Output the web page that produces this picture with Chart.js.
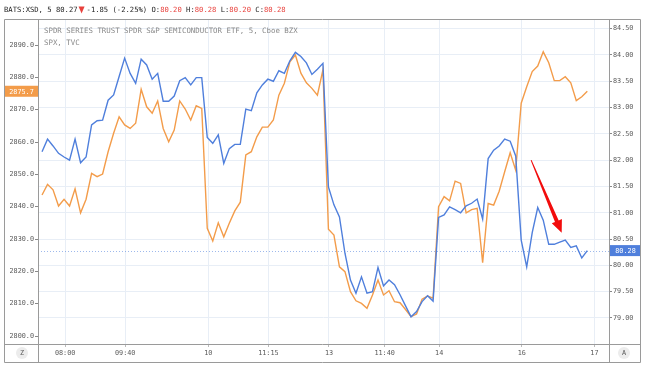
<!DOCTYPE html>
<html>
<head>
<meta charset="utf-8">
<script src="https://cdn.jsdelivr.net/npm/chart.js@4.4.0/dist/chart.umd.min.js"></script>
<style>
  html, body { margin: 0; padding: 0; background: #fff; }
</style>
</head>
<body>
<canvas id="chart" width="645" height="367"></canvas>
<script>
// SPX (left axis), 5-min closes
var spx = [
  2843.6, 2846.9, 2845.2, 2840.2, 2842.3, 2840.2, 2845.5, 2838.1, 2842.3, 2850.3,
  2849.3, 2850.1, 2857.0, 2862.7, 2867.8, 2865.3, 2864.2, 2865.8, 2876.3, 2870.9,
  2868.9, 2872.7, 2864.2, 2860.1, 2863.7, 2872.7, 2870.2, 2866.8, 2871.2, 2870.4,
  2833.3, 2829.4, 2835.0, 2830.7, 2834.9, 2838.7, 2841.4, 2856.0, 2857.0, 2861.6,
  2864.6, 2864.6, 2866.8, 2874.5, 2878.2, 2884.8, 2886.9, 2881.3, 2878.3, 2876.6,
  2874.5, 2882.3, 2833.0, 2831.2, 2821.4, 2819.9, 2813.7, 2810.9, 2810.1, 2808.6,
  2812.7, 2817.3, 2812.7, 2814.0, 2810.6, 2810.3, 2808.2, 2806.0, 2806.8, 2811.4,
  2812.4, 2811.7, 2840.0, 2843.1, 2841.8, 2847.9, 2847.2, 2838.1, 2839.1, 2839.5,
  2822.7, 2841.0, 2840.5, 2844.8, 2850.8, 2856.7, 2851.3, 2872.0, 2877.1, 2881.8,
  2883.5, 2887.9, 2884.5, 2879.0, 2879.0, 2880.2, 2878.3, 2872.8, 2874.0, 2875.7
];

// XSD (right axis), 5-min closes
var xsd = [
  82.16, 82.40, 82.27, 82.13, 82.06, 82.00, 82.40, 81.95, 82.06, 82.67,
  82.75, 82.76, 83.14, 83.24, 83.59, 83.94, 83.65, 83.46, 83.92, 83.81,
  83.54, 83.65, 83.12, 83.12, 83.22, 83.51, 83.57, 83.43, 83.57, 83.57,
  82.43, 82.32, 82.48, 81.94, 82.22, 82.30, 82.30, 82.97, 82.94, 83.28,
  83.43, 83.54, 83.50, 83.70, 83.65, 83.89, 84.05, 83.97, 83.85, 83.63,
  83.73, 83.84, 81.49, 81.15, 80.92, 80.23, 79.72, 79.47, 79.78, 79.47,
  79.50, 79.96, 79.61, 79.72, 79.63, 79.44, 79.23, 79.02, 79.12, 79.31,
  79.42, 79.32, 80.91, 80.96, 81.11, 81.06, 81.00, 81.13, 81.18, 81.26,
  80.88, 82.03, 82.19, 82.27, 82.40, 82.36, 82.08, 80.48, 79.97, 80.62,
  81.10, 80.86, 80.40, 80.40, 80.44, 80.48, 80.34, 80.37, 80.14, 80.28
];

var xTickPos = [4.2, 15.1, 30.2, 41.1, 52.1, 62.2, 72.1, 87.1, 100.3];
var xTickLabels = ['08:00', '09:40', '10', '11:15', '13', '11:40', '14', '16', '17'];
var leftTicks = [2800, 2810, 2820, 2830, 2840, 2850, 2860, 2870, 2880, 2890];
var rightTicks = [79, 79.5, 80, 80.5, 81, 81.5, 82, 82.5, 83, 83.5, 84, 84.5];

var lastSpx = 2875.7;
var lastXsd = 80.28;
// red arrow, in (bar index, XSD price)
var arrowFrom = [88.8, 82.0];
var arrowTo = [94.35, 80.62];

var colors = {
    blue: '#4f7fdc',
    orange: '#f39c4a',
    red: '#e8413c',
    grid: '#e8eef6',
    frame: '#9a9a9a',
    text: '#5a5a5a'
};
var mono = '"DejaVu Sans Mono", monospace';

var overlay = {
    id: 'overlay',
    beforeDatasetsDraw: function(chart) {
        var ctx = chart.ctx, a = chart.chartArea;
        var y = Math.round(chart.scales.yR.getPixelForValue(lastXsd)) + 0.5;
        ctx.save();
        ctx.strokeStyle = 'rgba(79,127,220,0.55)';
        ctx.lineWidth = 1;
        ctx.setLineDash([1, 2]);
        ctx.beginPath();
        ctx.moveTo(a.left, y);
        ctx.lineTo(a.right, y);
        ctx.stroke();
        ctx.restore();
    },
    afterDraw: function(chart) {
        var ctx = chart.ctx, a = chart.chartArea;
        var yL = chart.scales.yL, yR = chart.scales.yR, x = chart.scales.x;
        ctx.save();

        // frame
        ctx.strokeStyle = colors.frame;
        ctx.lineWidth = 1;
        ctx.beginPath();
        ctx.rect(4.5, 19.5, 636, 343);
        ctx.moveTo(a.left + 0.5, 19.5); ctx.lineTo(a.left + 0.5, 362.5);
        ctx.moveTo(a.right + 0.5, 19.5); ctx.lineTo(a.right + 0.5, 362.5);
        ctx.moveTo(4.5, a.bottom + 0.5); ctx.lineTo(640.5, a.bottom + 0.5);
        ctx.stroke();

        // header
        ctx.font = '7.2px ' + mono;
        ctx.textBaseline = 'middle';
        ctx.textAlign = 'left';
        var hx = 4, hy = 10;
        var parts = [
            ['BATS:XSD, 5 80.27', '#222'], ['TRI', colors.red], ['-1.85 (-2.25%) O:', '#222'],
            ['80.20', colors.red], [' H:', '#222'], ['80.28', colors.red],
            [' L:', '#222'], ['80.20', colors.red], [' C:', '#222'], ['80.28', colors.red]
        ];
        parts.forEach(function(p) {
            if (p[0] === 'TRI') {
                ctx.fillStyle = p[1];
                ctx.beginPath();
                ctx.moveTo(hx + 1, hy - 3.5);
                ctx.lineTo(hx + 7, hy - 3.5);
                ctx.lineTo(hx + 4, hy + 3.5);
                ctx.closePath();
                ctx.fill();
                hx += 9;
                return;
            }
            ctx.fillStyle = p[1];
            ctx.fillText(p[0], hx, hy);
            hx += ctx.measureText(p[0]).width;
        });

        // legend text
        ctx.font = '7.4px ' + mono;
        ctx.fillStyle = '#8a8a8a';
        ctx.fillText('SPDR SERIES TRUST SPDR S&P SEMICONDUCTOR ETF, 5, Cboe BZX', a.left + 6, 31);
        ctx.fillText('SPX, TVC', a.left + 6, 43);

        // price badges
        ctx.font = '6.8px ' + mono;
        ctx.textAlign = 'center';
        var ly = yL.getPixelForValue(lastSpx);
        ctx.fillStyle = colors.orange;
        ctx.fillRect(5, ly - 5.5, a.left - 5, 11);
        ctx.fillStyle = '#fff';
        ctx.fillText(lastSpx.toFixed(1), (5 + a.left) / 2, ly + 0.5);
        var ry = yR.getPixelForValue(lastXsd);
        ctx.fillStyle = colors.blue;
        ctx.fillRect(a.right + 1, ry - 5.5, 640 - a.right - 1, 11);
        ctx.fillStyle = '#fff';
        ctx.fillText(lastXsd.toFixed(2), (a.right + 640) / 2 + 1, ry + 0.5);

        // Z / A buttons
        [['Z', 22], ['A', 624]].forEach(function(b) {
            ctx.fillStyle = '#ececec';
            ctx.beginPath();
            ctx.arc(b[1], 353, 6, 0, Math.PI * 2);
            ctx.fill();
            ctx.fillStyle = colors.text;
            ctx.fillText(b[0], b[1], 353.5);
        });

        // red arrow
        var p0 = [x.getPixelForValue(arrowFrom[0]), yR.getPixelForValue(arrowFrom[1])];
        var p1 = [x.getPixelForValue(arrowTo[0]), yR.getPixelForValue(arrowTo[1])];
        var dx = p1[0] - p0[0], dy = p1[1] - p0[1];
        var len = Math.sqrt(dx * dx + dy * dy);
        var ux = dx / len, uy = dy / len, nx = -uy, ny = ux;
        var hl = 12.5, hw = 5.5;
        var bx = p1[0] - ux * hl, by = p1[1] - uy * hl;
        ctx.fillStyle = '#f20c0c';
        ctx.beginPath();
        ctx.moveTo(p0[0] + nx * 0.5, p0[1] + ny * 0.5);
        ctx.lineTo(bx + nx * 2, by + ny * 2);
        ctx.lineTo(bx + nx * hw, by + ny * hw);
        ctx.lineTo(p1[0], p1[1]);
        ctx.lineTo(bx - nx * hw, by - ny * hw);
        ctx.lineTo(bx - nx * 2, by - ny * 2);
        ctx.lineTo(p0[0] - nx * 0.5, p0[1] - ny * 0.5);
        ctx.closePath();
        ctx.fill();

        ctx.restore();
    }
};

new Chart(document.getElementById('chart'), {
    type: 'line',
    data: {
        datasets: [{
            label: 'XSD',
            data: xsd.map(function(v, i) { return { x: i, y: v }; }),
            yAxisID: 'yR',
            borderColor: colors.blue,
            borderWidth: 1.4,
            pointRadius: 0,
            tension: 0
        }, {
            label: 'SPX',
            data: spx.map(function(v, i) { return { x: i, y: v }; }),
            yAxisID: 'yL',
            borderColor: colors.orange,
            borderWidth: 1.4,
            pointRadius: 0,
            tension: 0
        }]
    },
    options: {
        responsive: false,
        animation: false,
        devicePixelRatio: 1,
        layout: { padding: { left: 4, right: 5, top: 19, bottom: 5 } },
        plugins: { legend: { display: false }, tooltip: { enabled: false } },
        scales: {
            x: {
                type: 'linear',
                min: -0.73,
                max: 102.94,
                afterBuildTicks: function(s) { s.ticks = xTickPos.map(function(v) { return { value: v }; }); },
                afterFit: function(s) { s.height = 18; },
                ticks: {
                    autoSkip: false, maxRotation: 0, padding: 2,
                    font: { family: mono, size: 6.8 }, color: colors.text,
                    callback: function(v, i) { return xTickLabels[i]; }
                },
                grid: { color: colors.grid, tickColor: '#bbb', tickLength: 3 },
                border: { display: false }
            },
            yL: {
                position: 'left',
                min: 2797.53,
                max: 2898.05,
                afterBuildTicks: function(s) { s.ticks = leftTicks.map(function(v) { return { value: v }; }); },
                afterFit: function(s) { s.width = 34; },
                ticks: {
                    padding: 1,
                    font: { family: mono, size: 6.8 }, color: colors.text,
                    callback: function(v) { return v.toFixed(1); }
                },
                grid: { drawOnChartArea: false, tickColor: '#888', tickLength: 3 },
                border: { display: false }
            },
            yR: {
                position: 'right',
                min: 78.504,
                max: 84.684,
                afterBuildTicks: function(s) { s.ticks = rightTicks.map(function(v) { return { value: v }; }); },
                afterFit: function(s) { s.width = 31; },
                ticks: {
                    padding: 1,
                    font: { family: mono, size: 6.8 }, color: colors.text,
                    callback: function(v) { return v.toFixed(2); }
                },
                grid: { color: colors.grid, tickColor: '#888', tickLength: 3 },
                border: { display: false }
            }
        }
    },
    plugins: [overlay]
});
</script>
</body>
</html>
